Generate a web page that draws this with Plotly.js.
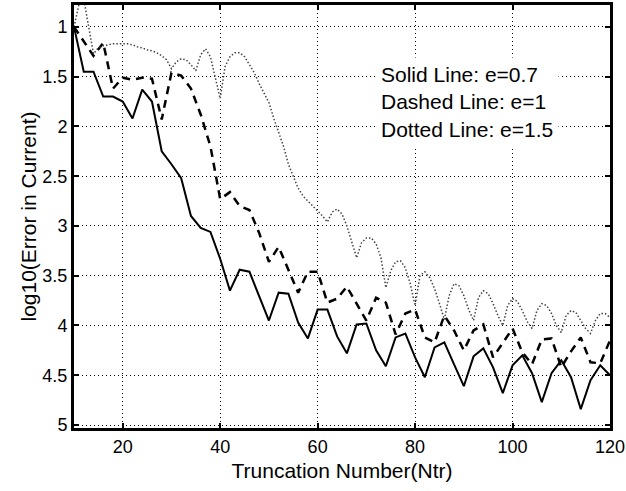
<!DOCTYPE html>
<html><head><meta charset="utf-8">
<script src="https://cdn.plot.ly/plotly-3.0.1.min.js"></script>
<style>body{margin:0;background:#fff}#chart{width:626px;height:491px}</style>
</head><body><div id="chart"></div>
<script>
const xSolid = [10,12,14,16,18,20,22,24,26,28,30,32,34,36,38,40,42,44,46,48,50,52,54,56,58,60,62,64,66,68,70,72,74,76,78,80,82,84,86,88,90,92,94,96,98,100,102,104,106,108,110,112,114,116,118,120];
const ySolid = [1.0,1.45,1.45,1.7,1.7,1.75,1.92,1.63,1.75,2.25,2.38,2.52,2.9,3.02,3.06,3.33,3.65,3.44,3.46,3.7,3.95,3.67,3.68,3.97,4.13,3.84,3.84,4.11,4.28,3.99,3.98,4.25,4.41,4.12,4.08,4.32,4.52,4.22,4.17,4.39,4.61,4.31,4.23,4.42,4.68,4.4,4.3,4.48,4.77,4.48,4.35,4.52,4.84,4.55,4.4,4.5];
const xDashed = [10,12,14,16,18,20,22,24,26,28,30,32,34,36,38,40,42,44,46,48,50,52,54,56,58,60,62,64,66,68,70,72,74,76,78,80,82,84,86,88,90,92,94,96,98,100,102,104,106,108,110,112,114,116,118,120];
const yDashed = [1.0,1.15,1.29,1.16,1.62,1.51,1.53,1.51,1.52,1.93,1.46,1.49,1.62,1.88,2.2,2.73,2.66,2.8,2.84,3.07,3.36,3.21,3.44,3.67,3.46,3.46,3.77,3.73,3.61,3.78,3.95,3.72,3.77,4.09,3.88,3.84,4.12,4.17,3.9,4.05,4.25,4.05,3.99,4.32,4.18,4.03,4.27,4.39,4.14,4.13,4.42,4.26,4.12,4.37,4.38,4.15];
const xDotted = [10,11,12,13,14,15,16,17,18,19,20,21,22,23,24,25,26,27,28,29,30,31,32,33,34,35,36,37,38,39,40,41,42,43,44,45,46,47,48,49,50,51,52,53,54,55,56,57,58,59,60,61,62,63,64,65,66,67,68,69,70,71,72,73,74,75,76,77,78,79,80,81,82,83,84,85,86,87,88,89,90,91,92,93,94,95,96,97,98,99,100,101,102,103,104,105,106,107,108,109,110,111,112,113,114,115,116,117,118,119,120];
const yDotted = [1.00,0.78,0.72,1.00,1.27,1.21,1.19,1.18,1.17,1.17,1.17,1.17,1.18,1.20,1.21,1.23,1.24,1.26,1.29,1.33,1.42,1.35,1.32,1.33,1.38,1.44,1.28,1.22,1.30,1.50,1.72,1.40,1.30,1.26,1.26,1.30,1.38,1.46,1.57,1.66,1.76,1.92,2.06,2.20,2.38,2.50,2.62,2.70,2.75,2.80,2.84,2.90,2.96,2.86,2.83,2.88,3.00,3.15,3.32,3.17,3.12,3.12,3.18,3.32,3.62,3.45,3.36,3.35,3.42,3.58,3.80,3.50,3.46,3.52,3.63,3.78,3.94,3.70,3.58,3.60,3.70,3.84,3.95,3.72,3.65,3.68,3.78,3.90,4.00,3.80,3.73,3.76,3.85,3.96,4.03,3.85,3.78,3.80,3.88,4.00,4.07,3.90,3.85,3.87,3.95,4.03,4.08,3.95,3.88,3.88,3.92];
const legendLines = ["Solid Line: e=0.7","Dashed Line: e=1","Dotted Line: e=1.5"];
const legendX = 71.7;
const legendYCenter = 1.75;

const font = "Liberation Sans, Arial, sans-serif";
const traces = [
  {x:xSolid, y:ySolid, mode:'lines', line:{color:'#000', width:2}, showlegend:false},
  {x:xDashed, y:yDashed, mode:'lines', line:{color:'#000', width:2.5, dash:'8px,6px'}, showlegend:false},
  {x:xDotted, y:yDotted, mode:'lines', line:{color:'#444', width:1.5, dash:'1.5px,2px'}, showlegend:false}
];
const annotations = [{x:legendX, y:legendYCenter, xref:'x', yref:'y', text:legendLines.join('<br>'), align:'left', showarrow:false, xanchor:'left', yanchor:'middle', bgcolor:'#fff', borderpad:5, font:{family:font, size:21, color:'#000'}}];
const axisCommon = {
  showline:true, linecolor:'#000', linewidth:3, mirror:'ticks',
  ticks:'inside', ticklen:5, tickwidth:2, tickcolor:'#000',
  showgrid:true, gridcolor:'#000', gridwidth:1, griddash:'1px,3px',
  zeroline:false, tickfont:{family:font, size:18, color:'#000'}
};
const layout = {
  width:626, height:491,
  margin:{l:74, r:16, t:5, b:63},
  paper_bgcolor:'#fff', plot_bgcolor:'#fff',
  xaxis:Object.assign({}, axisCommon, {range:[10,120], tick0:0, dtick:20,
    title:{text:'Truncation Number(Ntr)', font:{family:font, size:21, color:'#000'}, standoff:8}}),
  yaxis:Object.assign({}, axisCommon, {range:[5.03,0.78], tick0:1, dtick:0.5,
    title:{text:'log10(Error in Current)', font:{family:font, size:21, color:'#000'}, standoff:1}}),
  annotations:annotations,
  showlegend:false
};
Plotly.newPlot('chart', traces, layout, {displayModeBar:false, staticPlot:true});
</script></body></html>
